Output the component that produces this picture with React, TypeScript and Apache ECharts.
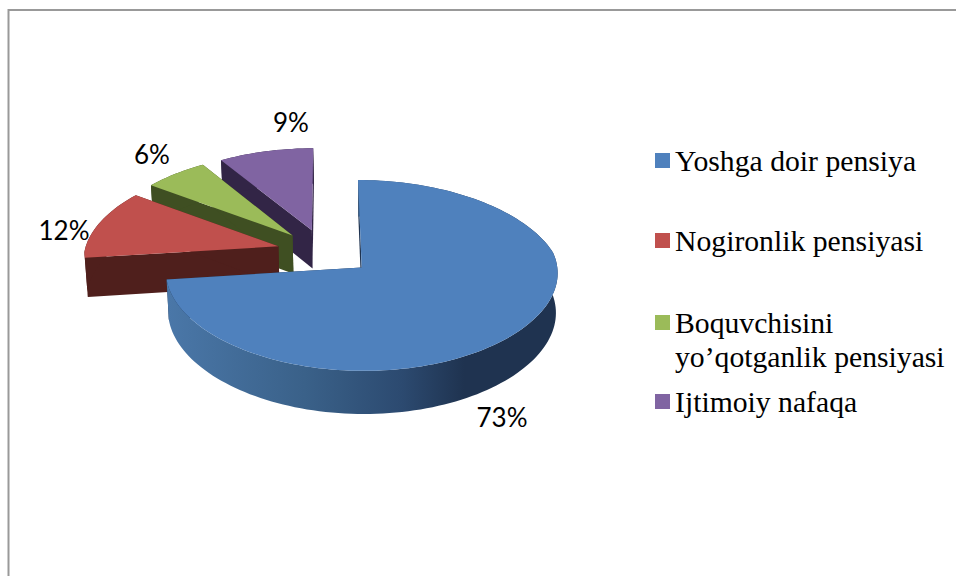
import React, { useEffect, useRef } from "react";
import * as echarts from "echarts";

const categories = [
  "Yoshga doir pensiya",
  "Nogironlik pensiyasi",
  "Boquvchisini yo’qotganlik pensiyasi",
  "Ijtimoiy nafaqa",
];
const values = [73, 12, 6, 9];

const topColors = ["#4f81bd", "#c0504d", "#9bbb59", "#8064a2"];
const sideColors = ["#1f3350", "#4f1f1c", "#3f4f22", "#322546"];
const legendFormats = [
  "Yoshga doir pensiya",
  "Nogironlik pensiyasi",
  "\nBoquvchisini\nyo’qotganlik pensiyasi",
  "Ijtimoiy nafaqa",
];
const legendTops = [144.5, 224.5, 271.5, 385.5];
const legendLineHeights = [32, 32, 34, 32];
const labelCenters = [
  [502, 417],
  [64, 230],
  [152, 154],
  [291, 122],
];

// projection of the pie plane onto the screen
const CX = 325;
const RX = 194;
const G = -0.0825;
const GX_BACK = -0.12;
const GX_FRONT = -0.05;
const D = 71.4;
const F = 252;
const EXPLODE = 0.25;
const DEPTH = 39;
const BOTTOM_SCALE = 0.99;
const VX = 385;

const project = (X: number, Y: number, lower: boolean): number[] => {
  const denom = 1 + G * Y;
  const denomX = 1 + (Y < 0 ? GX_BACK : GX_FRONT) * Y;
  let sx = CX + (RX * X) / denomX;
  let sy = (D * Y + F) / denom;
  if (lower) {
    sx = VX + (sx - VX) * BOTTOM_SCALE;
    sy += DEPTH / denom;
  }
  return [sx, sy];
};

const total = values.reduce((a, b) => a + b, 0);

const renderSlice = (index: number) => (_params: any, api: any) => {
  const value = api.value(0);
  const before = values.slice(0, index).reduce((a, b) => a + b, 0);
  const a0 = (before / total) * Math.PI * 2;
  const a1 = ((before + value) / total) * Math.PI * 2;
  const mid = (a0 + a1) / 2;
  const ox = EXPLODE * Math.sin(mid);
  const oy = -EXPLODE * Math.cos(mid);
  const steps = Math.max(12, Math.round(value * 2));

  const ground: number[][] = [];
  for (let i = 0; i <= steps; i++) {
    const t = a0 + ((a1 - a0) * i) / steps;
    ground.push([ox + Math.sin(t), oy - Math.cos(t)]);
  }
  const upper = ground.map((p) => project(p[0], p[1], false));
  const lower = ground.map((p) => project(p[0], p[1], true));
  const apexUp = project(ox, oy, false);
  const apexLow = project(ox, oy, true);

  const side = sideColors[index];
  const rimFill =
    index === 0
      ? new echarts.graphic.LinearGradient(
          168,
          0,
          558,
          0,
          [
            { offset: 0, color: "#4a77a8" },
            { offset: 0.35, color: "#3a6189" },
            { offset: 0.6, color: "#2c4a70" },
            { offset: 0.76, color: "#1f3350" },
            { offset: 1, color: "#1f3350" },
          ],
          true,
        )
      : side;

  const poly = (points: number[][], fill: any) => ({
    type: "polygon",
    shape: { points },
    style: { fill, stroke: "none" },
    silent: true,
  });

  const [lx, ly] = labelCenters[index];
  return {
    type: "group",
    children: [
      poly([apexUp, upper[0], lower[0], apexLow], side),
      poly([apexUp, upper[steps], lower[steps], apexLow], side),
      poly(upper.concat(lower.slice().reverse()), rimFill),
      poly([apexUp, ...upper], topColors[index]),
      {
        type: "text",
        silent: true,
        style: {
          x: lx,
          y: ly,
          text: `${value}%`,
          fontFamily: "Lato",
          fontSize: 26,
          fill: "#000",
          align: "center",
          verticalAlign: "middle",
        },
      },
    ],
  };
};

export default function App() {
  const ref = useRef<HTMLDivElement>(null);
  useEffect(() => {
    document.body.style.margin = "0";
    document.body.style.background = "#fff";
    const chart = echarts.init(ref.current!, null, { renderer: "svg" });
    chart.setOption({
      animation: false,
      backgroundColor: "#fff",
      graphic: [
        {
          type: "polyline",
          shape: { points: [[8.5, 576], [8.5, 10], [956, 10]] },
          style: { stroke: "#999", lineWidth: 2, fill: "none" },
          z: 0,
          silent: true,
        },
      ],
      legend: categories.map((name, i) => ({
        data: [name],
        left: 655,
        top: legendTops[i],
        padding: 0,
        itemWidth: 15,
        itemHeight: 15,
        selectedMode: false,
        icon: "rect",
        formatter: () => legendFormats[i],
        textStyle: {
          fontFamily: "Liberation Serif",
          fontSize: 29.7,
          lineHeight: legendLineHeights[i],
          color: "#000",
        },
        itemGap: 0,
      })),
      series: categories.map((name, i) => ({
        type: "custom",
        name,
        coordinateSystem: "none",
        z: 10 - (i === 0 ? 0 : i),
        zlevel: 0,
        silent: true,
        itemStyle: { color: topColors[i] },
        renderItem: renderSlice(i),
        data: [[values[i]]],
      })),
    });
    return () => chart.dispose();
  }, []);
  return (
    <div
      ref={ref}
      style={{ position: "fixed", left: 0, top: 0, width: 956, height: 576 }}
    />
  );
}
